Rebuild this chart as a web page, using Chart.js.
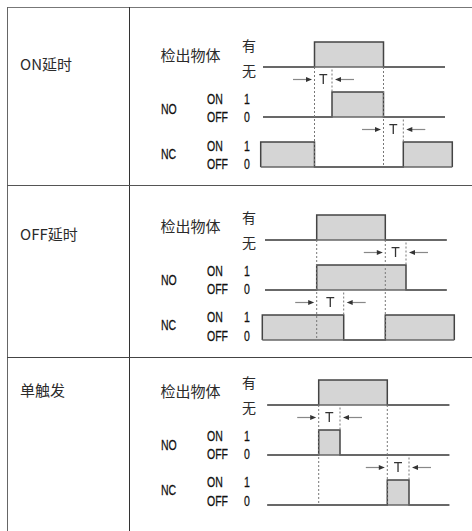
<!DOCTYPE html>
<html>
<head>
<meta charset="utf-8">
<script src="https://cdn.jsdelivr.net/npm/chart.js"></script>
<style>
  body { margin: 0; background: #fff; }
  #page { position: relative; width: 472px; height: 531px; overflow: hidden; background: #fff; }
  .rule { position: absolute; }
  .txt { position: absolute; white-space: nowrap; line-height: 1; color: #2b2b2b; }
  .cjk { font-family: "Noto Sans CJK SC", sans-serif; }
  .narrow { font-family: "Liberation Sans", Arial, sans-serif; color: #111;
            -webkit-text-stroke: 0.3px #111;
            transform: scaleX(0.7); transform-origin: left center; }
  canvas { position: absolute; }
</style>
</head>
<body>
<div id="page"></div>
<script>
// ---- data ----
const rowTitles = ["ON延时", "OFF延时", "单触发"];
const trackNames = ["检出物体", "NO", "NC"];
const objectLevels = ["有", "无"];
const switchLevels = ["ON", "OFF"];
const switchValues = ["1", "0"];

// time axis (arbitrary units), one entry per row
const lineStart = [13, 15, 17.3];
const lineEnd = [195, 196.7, 199.3];
const ncStart = [10.7, 12.3, 17.3];
const ncEnd = [202.3, 204.3, 199.3];

// [on, off] of each pulse
const objectPulses = [[[64.5, 133.5]], [[66.7, 135.3]], [[68.7, 137.3]]];
const noPulses = [[[82, 133.5]], [[66.7, 156]], [[68.7, 90]]];
const ncPulses = [[[10.7, 64.5], [153.3, 202.3]], [[12.3, 93.7], [135.3, 204.3]], [[137.3, 159]]];

// delay T: [from, to]
const noDelay = [[64.5, 82], [135.3, 156], [68.7, 90]];
const ncDelay = [[133.5, 153.3], [66.7, 93.7], [137.3, 159]];

// track levels: base (0/无), high = base + 1
const trackBase = [4, 2, 0];

// ---- layout ----
const page = document.getElementById("page");
const rowTop = [7, 184.5, 356.5];
const titleY = [63, 233, 389];
const labelBase = [69, 240.7, 405.5];
const canvasTop = [26.7, 200, 365];

const addRule = (l, t, w, h, c) => {
    let d = document.createElement("div");
    d.className = "rule";
    d.style.cssText = `left:${l}px;top:${t}px;width:${w}px;height:${h}px;background:${c}`;
    page.appendChild(d);
};

const addText = (str, x, y, cls, size) => {
    let d = document.createElement("div");
    d.className = "txt " + cls;
    d.style.left = x + "px";
    d.style.top = (y - size / 2) + "px";
    d.style.fontSize = size + "px";
    d.textContent = str;
    page.appendChild(d);
};

// table lines
addRule(7, 6.5, 465, 1.5, "#777");
addRule(6.5, 7, 1.5, 524, "#666");
addRule(128.5, 7, 1.5, 524, "#333");
addRule(7, rowTop[1], 465, 1.5, "#555");
addRule(7, rowTop[2], 465, 1.5, "#444");

const waveData = (start, end, pulses, base) => {
    let pts = [{ x: start, y: base }];
    pulses.forEach(([on, off]) => {
        pts.push({ x: on, y: base }, { x: on, y: base + 1 }, { x: off, y: base + 1 }, { x: off, y: base });
    });
    pts.push({ x: end, y: base });
    return pts;
};

const drawArrow = (ctx, x0, x1, y) => {
    let dir = Math.sign(x1 - x0);
    ctx.strokeStyle = "#888";
    ctx.lineWidth = 1.2;
    ctx.beginPath();
    ctx.moveTo(x0, y);
    ctx.lineTo(x1 - dir * 4, y);
    ctx.stroke();
    ctx.fillStyle = "#333";
    ctx.beginPath();
    ctx.moveTo(x1, y);
    ctx.lineTo(x1 - dir * 6, y - 2.5);
    ctx.lineTo(x1 - dir * 6, y + 2.5);
    ctx.closePath();
    ctx.fill();
};

// arrows + "T" between the edges of a delay
const delayArrows = {
    id: "delayArrows",
    afterDatasetsDraw(chart, args, opts) {
        const { ctx, scales: { x, y } } = chart;
        ctx.save();
        opts.spans.forEach((s) => {
            let a = x.getPixelForValue(s.from);
            let b = x.getPixelForValue(s.to);
            let py = y.getPixelForValue(s.level);
            drawArrow(ctx, a - 21.5, a - 2.5, py);
            drawArrow(ctx, b + 22, b + 3, py);
            ctx.fillStyle = "#333";
            ctx.font = "14px 'Liberation Sans', Arial, sans-serif";
            ctx.textAlign = "center";
            ctx.textBaseline = "middle";
            ctx.fillText("T", (a + b) / 2, py + 0.5);
        });
        ctx.restore();
    },
};

rowTitles.forEach((title, r) => {
    addText(title, 20, titleY[r], "cjk", 15);

    let lb = labelBase[r];
    addText(trackNames[0], 160.5, lb - 15, "cjk", 15);
    addText(objectLevels[0], 242, lb - 24, "cjk", 14);
    addText(objectLevels[1], 242, lb + 1, "cjk", 14);
    addText(trackNames[1], 160.5, lb + 39, "narrow", 15);
    addText(switchLevels[0], 206.5, lb + 29.5, "narrow", 15);
    addText(switchLevels[1], 206.5, lb + 47.5, "narrow", 15);
    addText(switchValues[0], 243.5, lb + 29.5, "narrow", 15);
    addText(switchValues[1], 243.5, lb + 47.5, "narrow", 15);
    addText(trackNames[2], 160.5, lb + 84, "narrow", 15);
    addText(switchLevels[0], 206.5, lb + 76, "narrow", 15);
    addText(switchLevels[1], 206.5, lb + 94.5, "narrow", 15);
    addText(switchValues[0], 243.5, lb + 76, "narrow", 15);
    addText(switchValues[1], 243.5, lb + 94.5, "narrow", 15);

    let canvas = document.createElement("canvas");
    canvas.width = 215;
    canvas.height = 150;
    canvas.style.left = "250px";
    canvas.style.top = canvasTop[r] + "px";
    canvas.style.width = "215px";
    canvas.style.height = "150px";
    page.appendChild(canvas);

    let starts = [lineStart[r], lineStart[r], ncStart[r]];
    let ends = [lineEnd[r], lineEnd[r], ncEnd[r]];
    let pulses = [objectPulses[r], noPulses[r], ncPulses[r]];

    let datasets = [];
    trackBase.forEach((base, k) => {
        datasets.push({
            data: waveData(starts[k], ends[k], pulses[k], base),
            borderColor: "#444",
            borderWidth: 1.5,
            backgroundColor: "#d5d5d5",
            fill: { value: base },
            order: 2,
        });
        datasets.push({
            data: [{ x: starts[k], y: base }, { x: ends[k], y: base }],
            borderColor: "#666",
            borderWidth: 1.4,
            fill: false,
            order: 1,
        });
    });

    // dashed guides at the object edges
    objectPulses[r].forEach(([on, off]) => {
        [on, off].forEach((e) => {
            datasets.push({
                data: [{ x: e, y: trackBase[0] }, { x: e, y: trackBase[2] }],
                borderColor: "#777",
                borderWidth: 1,
                borderDash: [2, 2],
                fill: false,
                order: 0,
            });
        });
    });
    // short guides at the end of each delay
    [[noDelay[r], trackBase[1] + 1], [ncDelay[r], trackBase[2] + 1]].forEach(([d, high]) => {
        datasets.push({
            data: [{ x: d[1], y: high + 0.9 }, { x: d[1], y: high }],
            borderColor: "#777",
            borderWidth: 1,
            borderDash: [2, 2],
            fill: false,
            order: 0,
        });
    });

    new Chart(canvas.getContext("2d"), {
        type: "line",
        data: { datasets: datasets },
        options: {
            responsive: false,
            animation: false,
            devicePixelRatio: 1,
            layout: { padding: 0 },
            elements: { point: { radius: 0 }, line: { tension: 0 } },
            scales: {
                x: { type: "linear", min: 0, max: 215, display: false },
                y: { type: "linear", min: -0.4, max: 5.6, display: false },
            },
            plugins: {
                legend: { display: false },
                tooltip: { enabled: false },
                delayArrows: {
                    spans: [
                        { from: noDelay[r][0], to: noDelay[r][1], level: trackBase[1] + 1.5 },
                        { from: ncDelay[r][0], to: ncDelay[r][1], level: trackBase[2] + 1.5 },
                    ],
                },
            },
        },
        plugins: [delayArrows],
    });
});
</script>
</body>
</html>
